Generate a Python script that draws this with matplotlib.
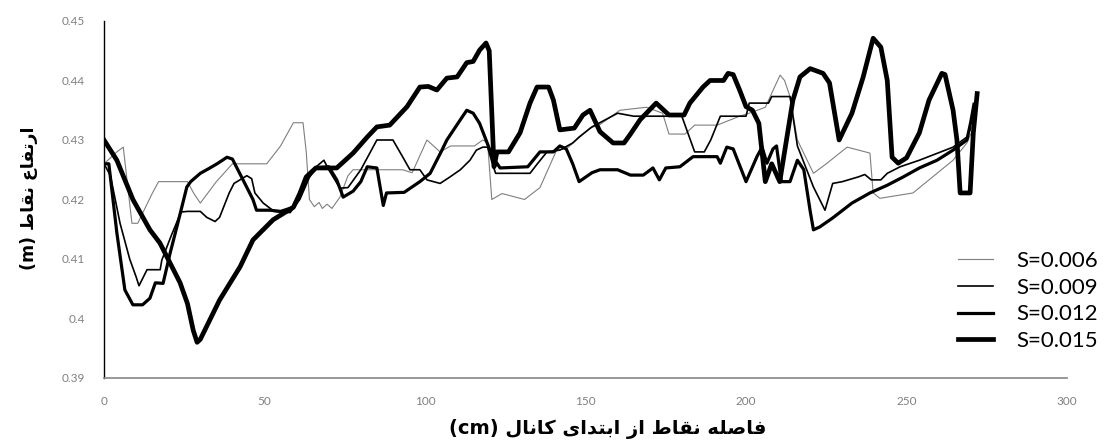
import matplotlib
matplotlib.use('Agg')
from matplotlib import pyplot as plt

# --- data ---
x_006 = [0, 2, 4, 6, 8.7, 10.5, 15, 17, 26, 28, 30, 35, 40, 50.7, 55, 59, 62, 63, 64, 65.5, 67, 68, 69.5, 71,
         73.5, 76, 77.6, 93, 96, 100.6, 104.7, 108, 115.4, 118, 119.5, 120.8, 124, 131, 135.8, 141, 144, 151.4,
         154.5, 160.7, 169, 174, 176, 181, 184, 191, 198, 201, 206, 210.6, 212, 213.7, 216, 221, 225, 231.5,
         238.6, 239.6, 241.7, 252, 264.5, 268.8, 270]
y_006 = [0.426, 0.427, 0.428, 0.4288, 0.416, 0.416, 0.421, 0.423, 0.423, 0.421, 0.4194, 0.423, 0.426, 0.426,
         0.429, 0.4329, 0.4329, 0.428, 0.420, 0.4188, 0.4195, 0.4185, 0.4192, 0.4185, 0.4204, 0.424, 0.425,
         0.425, 0.4245, 0.430, 0.428, 0.429, 0.429, 0.430, 0.4295, 0.420, 0.421, 0.420, 0.422, 0.4283, 0.4285,
         0.432, 0.4326, 0.435, 0.4355, 0.4345, 0.431, 0.431, 0.4325, 0.4325, 0.434, 0.4345, 0.4355, 0.4409,
         0.440, 0.4373, 0.430, 0.4244, 0.426, 0.4288, 0.4278, 0.4211, 0.4202, 0.4211, 0.4266, 0.4295, 0.431]

x_009 = [0, 2, 5, 8, 10, 10.9, 13.4, 17.5, 18, 21, 24, 26, 30, 32, 34.6, 36, 39, 40.5, 44.5, 46, 47, 49.6, 53,
         58, 61, 65, 68.5, 70, 73.5, 76, 80, 83, 85, 90, 93, 95.3, 98.4, 100.6, 104.7, 107.8, 111, 114, 116,
         118, 119.5, 121, 122, 132.7, 135, 138, 142, 146, 148, 152, 160, 165, 172, 180, 182, 184, 187, 189,
         192, 200, 201, 207, 208, 213.7, 216, 221, 224.6, 227, 230, 235, 237, 239, 242, 244, 248, 254, 264.5,
         268.8, 270]
y_009 = [0.426, 0.424, 0.416, 0.410, 0.407, 0.4055, 0.4082, 0.4082, 0.4098, 0.414, 0.4179, 0.418, 0.418, 0.417,
         0.4163, 0.417, 0.4211, 0.4227, 0.424, 0.4235, 0.4211, 0.4194, 0.418, 0.4178, 0.420, 0.425, 0.4266,
         0.425, 0.4219, 0.422, 0.425, 0.428, 0.430, 0.430, 0.4272, 0.425, 0.425, 0.4233, 0.4227, 0.4238, 0.425,
         0.4266, 0.4283, 0.4288, 0.4288, 0.426, 0.4244, 0.4244, 0.426, 0.428, 0.4283, 0.4295, 0.4305, 0.4322,
         0.4345, 0.434, 0.434, 0.434, 0.431, 0.428, 0.428, 0.430, 0.434, 0.434, 0.4362, 0.4362, 0.4373, 0.4373,
         0.429, 0.4221, 0.4182, 0.4227, 0.423, 0.4238, 0.4242, 0.4233, 0.4233, 0.4244, 0.4255, 0.4266, 0.4288,
         0.4305, 0.432]

x_012 = [0, 1.5, 4, 6.5, 9, 12, 14.3, 16, 18.4, 20.6, 22.7, 25.8, 27, 30, 33, 35.5, 38.3, 40, 43.3, 46.4, 47.5,
         51.7, 55, 59, 63, 66, 70, 72.5, 74.5, 77.6, 80, 82, 85, 87, 88, 93.5, 98.4, 101.6, 105, 106.8, 111,
         113, 115, 117, 119, 121, 123.4, 132, 135.8, 140, 142, 144, 146, 148, 152, 154.5, 160, 164, 168, 171,
         173, 175, 179.4, 183.5, 191, 192, 194, 196, 200, 203.4, 205, 206.5, 208.4, 209.5, 211, 213.7, 216,
         218, 220, 221, 223, 227, 233, 238.6, 244, 249, 254, 259.5, 264.5, 268.8, 270, 271]
y_012 = [0.426, 0.426, 0.4144, 0.4048, 0.4023, 0.4023, 0.4034, 0.406, 0.4059, 0.411, 0.4154, 0.4221, 0.423,
         0.4244, 0.4253, 0.4261, 0.4271, 0.4268, 0.4233, 0.420, 0.4182, 0.4182, 0.418, 0.4187, 0.4233, 0.4253,
         0.4255, 0.4233, 0.4204, 0.4214, 0.423, 0.4255, 0.4253, 0.419, 0.4211, 0.4212, 0.423, 0.4244, 0.428,
         0.430, 0.4334, 0.435, 0.4345, 0.4328, 0.430, 0.4272, 0.4253, 0.4255, 0.428, 0.428, 0.429, 0.4285,
         0.426, 0.423, 0.4245, 0.425, 0.425, 0.4241, 0.4241, 0.4253, 0.4233, 0.4253, 0.4255, 0.4272, 0.4272,
         0.4261, 0.4288, 0.4285, 0.423, 0.4272, 0.4288, 0.4261, 0.4285, 0.429, 0.423, 0.423, 0.4266, 0.425,
         0.418, 0.4149, 0.4154, 0.4169, 0.4194, 0.4211, 0.4224, 0.4238, 0.4253, 0.4266, 0.4283, 0.430, 0.433,
         0.436]

x_015 = [0, 4, 9, 14.3, 17.4, 20.6, 23.7, 26, 27.8, 29, 30, 36, 42.4, 46.4, 52.7, 59, 61, 63, 66, 72.5, 77.6,
         82, 85, 89, 94.4, 98.4, 101, 103.7, 106.8, 110, 113, 115, 117, 119, 120, 121.5, 122.4, 126, 129.6,
         132.7, 134.9, 138.5, 140, 142, 146.5, 149.2, 151.4, 154.5, 158.6, 162, 164, 167, 172, 176, 180.7,
         182.5, 186.6, 188.8, 193, 194.4, 196, 198, 200, 202, 204, 206, 208, 210.5, 212, 214.6, 216.8, 220,
         224, 226, 229, 233, 236.5, 239.6, 242, 244, 245.5, 247.4, 250, 254, 257, 261, 262, 264.5, 265.7,
         266.7, 269.8, 270.8, 272]
y_015 = [0.430, 0.4266, 0.420, 0.4149, 0.4127, 0.4093, 0.406, 0.4025, 0.398, 0.396, 0.3965, 0.4031, 0.4087,
         0.4132, 0.4166, 0.4187, 0.421, 0.4238, 0.4253, 0.4253, 0.4278, 0.4305, 0.4322, 0.4325, 0.4356, 0.4389,
         0.439, 0.4384, 0.4404, 0.4406, 0.443, 0.4432, 0.4451, 0.4463, 0.445, 0.4255, 0.428, 0.428, 0.4312,
         0.4362, 0.4389, 0.4389, 0.4367, 0.4317, 0.432, 0.4342, 0.435, 0.4314, 0.4295, 0.4295, 0.431, 0.4334,
         0.4362, 0.4342, 0.4342, 0.4362, 0.4389, 0.440, 0.440, 0.4412, 0.441, 0.4384, 0.4356, 0.435, 0.4328,
         0.423, 0.426, 0.423, 0.428, 0.4367, 0.4406, 0.442, 0.4412, 0.4396, 0.430, 0.4345, 0.4406, 0.4471,
         0.4456, 0.440, 0.4271, 0.4261, 0.427, 0.4312, 0.4367, 0.4412, 0.441, 0.435, 0.430, 0.4211, 0.4211,
         0.4312, 0.4378]

series_labels = ['S=0.006', 'S=0.009', 'S=0.012', 'S=0.015']
x_ticks = [0, 50, 100, 150, 200, 250, 300]
y_ticks = [0.39, 0.40, 0.41, 0.42, 0.43, 0.44, 0.45]
y_tick_labels = ['0.39', '0.4', '0.41', '0.42', '0.43', '0.44', '0.45']

x_title = 'فاصله نقاط از ابتدای کانال'
y_title = 'ارتفاع نقاط'

# isolated, final, initial, medial presentation forms
_forms = {
    'ا': ('\uFE8D', '\uFE8E', None, None),
    'ب': ('\uFE8F', '\uFE90', '\uFE91', '\uFE92'),
    'ت': ('\uFE95', '\uFE96', '\uFE97', '\uFE98'),
    'د': ('\uFEA9', '\uFEAA', None, None),
    'ر': ('\uFEAD', '\uFEAE', None, None),
    'ز': ('\uFEAF', '\uFEB0', None, None),
    'ص': ('\uFEB9', '\uFEBA', '\uFEBB', '\uFEBC'),
    'ط': ('\uFEC1', '\uFEC2', '\uFEC3', '\uFEC4'),
    'ع': ('\uFEC9', '\uFECA', '\uFECB', '\uFECC'),
    'ف': ('\uFED1', '\uFED2', '\uFED3', '\uFED4'),
    'ق': ('\uFED5', '\uFED6', '\uFED7', '\uFED8'),
    'ل': ('\uFEDD', '\uFEDE', '\uFEDF', '\uFEE0'),
    'ن': ('\uFEE5', '\uFEE6', '\uFEE7', '\uFEE8'),
    'ه': ('\uFEE9', '\uFEEA', '\uFEEB', '\uFEEC'),
    'ک': ('\uFB8E', '\uFB8F', '\uFB90', '\uFB91'),
    'ی': ('\uFBFC', '\uFBFD', '\uFBFE', '\uFBFF'),
}


def shape_rtl(text):
    # join letters and return them in visual (left to right) order
    out = []
    for i, c in enumerate(text):
        if c not in _forms:
            out.append(c)
            continue
        prev = text[i-1] if i > 0 else ''
        nxt = text[i+1] if i+1 < len(text) else ''
        join_prev = prev in _forms and _forms[prev][2] is not None
        join_next = nxt in _forms and _forms[c][2] is not None
        iso, fin, ini, med = _forms[c]
        if join_prev and join_next:
            out.append(med)
        elif join_prev:
            out.append(fin)
        elif join_next:
            out.append(ini)
        else:
            out.append(iso)
    return ''.join(out)[::-1]


plt.rcParams['font.family'] = ['Lato', 'DejaVu Sans']

fig = plt.figure(figsize=(11.1, 4.42), dpi=100)
ax = fig.add_axes([0.0937, 0.1448, 0.8676, 0.8077])

ax.plot(x_006, y_006, color='#7f7f7f', linewidth=0.8, label=series_labels[0])
ax.plot(x_009, y_009, color='black', linewidth=1.2, label=series_labels[1])
ax.plot(x_012, y_012, color='black', linewidth=2.3, label=series_labels[2])
ax.plot(x_015, y_015, color='black', linewidth=3.4, label=series_labels[3])

ax.set_xlim(0, 300)
ax.set_ylim(0.39, 0.45)
ax.set_xticks(x_ticks)
ax.set_yticks(y_ticks)
ax.set_yticklabels(y_tick_labels)
ax.tick_params(axis='both', length=0, labelsize=8.5, labelcolor='#808080')
ax.tick_params(axis='x', pad=13)
ax.tick_params(axis='y', pad=14)

ax.spines['top'].set_visible(False)
ax.spines['right'].set_visible(False)
ax.spines['bottom'].set_color('#868686')
ax.spines['bottom'].set_linewidth(1.2)
ax.spines['left'].set_color('black')
ax.spines['left'].set_linewidth(1.0)

ax.set_xlabel('(cm) ' + shape_rtl(x_title), fontsize=14, fontweight='bold',
              family=['DejaVu Sans'])
ax.xaxis.set_label_coords((608 - 104) / 963, -(419 - 378) / 357)
ax.set_ylabel('(m) ' + shape_rtl(y_title), fontsize=12.5, fontweight='bold',
              family=['DejaVu Sans'])
ax.yaxis.set_label_coords((38 - 104) / 963, (378 - 198) / 357)

ax.legend(loc='upper left', bbox_to_anchor=(947/1110, 1 - 240/442), bbox_transform=fig.transFigure,
          frameon=False, fontsize=16, handlelength=1.55, handletextpad=1.05, labelspacing=0.3,
          borderpad=0)

fig.savefig('out.png', dpi=100)
